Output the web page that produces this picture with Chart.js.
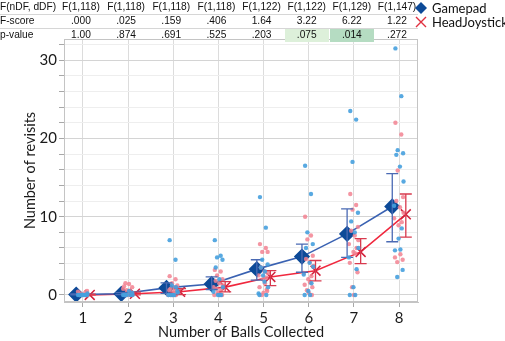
<!DOCTYPE html>
<html>
<head>
<meta charset="utf-8">
<script src="https://cdn.jsdelivr.net/npm/chart.js@4.4.1/dist/chart.umd.min.js"></script>
<style>
  body { margin: 0; background: #fff; }
  #wrap { position: relative; width: 505px; height: 341px; }
  #chart { position: absolute; left: 0; top: 0; }
  .cell { position: absolute; height: 14px; line-height: 14px; font-family: "Liberation Sans", Arial, sans-serif;
          font-size: 10.2px; color: #111; white-space: nowrap; }
  .sep { position: absolute; left: 0; height: 0; border-top: 1px solid #d6d6d6; }
  .legend { position: absolute; left: 414px; font-family: Lato, sans-serif; font-size: 13px; color: #111;
            line-height: 14px; white-space: nowrap; }
  .legend svg { vertical-align: -2px; margin-right: 4px; }
</style>
</head>
<body>
<div id="wrap">
  <canvas id="chart" width="505" height="341"></canvas>
  <div id="table"></div>
  <div class="legend" style="top:1px"><svg width="14" height="14"><path d="M7 1 L13 7 L7 13 L1 7 Z" fill="#0d4a98"/></svg>Gamepad</div>
  <div class="legend" style="top:15px"><svg width="14" height="14"><path d="M2 2 L12 12 M12 2 L2 12" stroke="#e0303f" stroke-width="1.4"/></svg>HeadJoystick</div>
</div>
<script>
// categories: number of balls collected
const categories = [1, 2, 3, 4, 5, 6, 7, 8];

// means and error bars
const gamepadMean = [0.05, 0.15, 0.9, 1.4, 3.3, 4.9, 7.8, 11.3];
const gamepadLow  = [0.0, 0.05, 0.2, 0.7, 1.9, 2.9, 4.8, 6.8];
const gamepadHigh = [0.15, 0.3, 1.55, 2.3, 4.5, 6.5, 11.0, 15.5];
const headMean = [0.0, 0.15, 0.4, 1.0, 2.3, 3.1, 5.5, 10.3];
const headLow  = [0.0, 0.0, 0.05, 0.4, 1.2, 1.8, 4.0, 7.4];
const headHigh = [0.1, 0.35, 0.8, 1.7, 3.1, 4.4, 7.2, 12.9];

// individual revisit counts per category
const gamepadRaw = [
  [0, 0, 0, 0, 0, 0, 0.2, 0, 0, 0],
  [0, 0, 0, 0.3, 0, 0.5, 0, 0],
  [7.0, 4.5, 1.2, 0.5, 0, 0, 0.3, 0, 1.0, 0],
  [7.0, 5.0, 4.8, 4.5, 3.5, 2.0, 1.0, 0.4, 0, 0, 0],
  [12.5, 8.6, 4.5, 3.9, 3.5, 1.7, 1.0, 0.2, 0, 2.5, 3.0, 0],
  [16.5, 12.9, 8.0, 6.5, 6.0, 4.1, 3.6, 2.6, 1.5, 0.5, 0, 0],
  [23.5, 22.4, 17.0, 10.5, 9.4, 8.0, 6.0, 4.8, 3.3, 1.0, 0, 0],
  [31.5, 25.4, 18.5, 18.1, 17.9, 16.4, 14.5, 11.4, 8.5, 7.2, 5.8, 5.7, 3.2, 2.3]
];
const headRaw = [
  [0, 0.3, 0, 0.5, 0.2, 0, 0, 0.4, 0],
  [0, 0.3, 0.6, 1.0, 1.5, 1.4, 0.2, 0.8, 0, 0, 0.5, 1.1, 0.3, 0],
  [2.4, 2.0, 1.5, 1.2, 0.8, 0.5, 0.3, 0, 0, 0, 1.0, 0.6, 0.2, 0],
  [3.2, 3.0, 2.5, 2.0, 1.8, 1.5, 1.2, 1.0, 0.6, 0.3, 0, 0, 0, 0.8, 0.2],
  [6.5, 6.0, 5.5, 5.5, 3.5, 3.0, 2.8, 2.5, 2.2, 2.0, 1.5, 1.0, 0.5, 0, 0.3, 0.7],
  [10.0, 7.6, 7.1, 5.0, 4.6, 4.2, 3.7, 2.8, 2.4, 2.0, 1.6, 1.3, 1.0, 0.6, 0.3, 0],
  [12.9, 11.5, 10.9, 8.7, 8.2, 7.6, 7.0, 6.5, 6.0, 5.5, 5.3, 4.1, 2.9, 1.0, 0],
  [22.0, 20.5, 15.9, 12.5, 12.0, 11.2, 10.5, 9.8, 9.3, 8.9, 5.2, 4.8, 4.5, 4.2]
];

// ANOVA table above the plot
const rowLabels = ['F(nDF, dDF)', 'F-score', 'p-value'];
const dfLabels = ['F(1,118)', 'F(1,118)', 'F(1,118)', 'F(1,118)', 'F(1,122)', 'F(1,122)', 'F(1,129)', 'F(1,147)'];
const fScores = ['.000', '.025', '.159', '.406', '1.64', '3.22', '6.22', '1.22'];
const pValues = ['1.00', '.874', '.691', '.525', '.203', '.075', '.014', '.272'];

const yTicks = [0, 10, 20, 30];

// small horizontal spread so the dots don't sit on one line
const jitter = [-0.08, 0.05, -0.03, 0.09, -0.06, 0.02, 0.1, -0.11, 0.06, -0.01, 0.03, -0.09, 0.08, -0.04, 0.0, 0.07];
const meanShift = 0.15;

function rawPoints(groups) {
  const pts = [];
  groups.forEach((vals, i) => {
    vals.forEach((v, j) => pts.push({ x: categories[i] + jitter[j % jitter.length], y: v }));
  });
  return pts;
}

const errorBars = {
  id: 'errorBars',
  afterDatasetDraw(chart, args) {
    if (args.index !== 1) return;
    const ctx = chart.ctx, xs = chart.scales.x, ys = chart.scales.y;
    function bars(lo, hi, shift, color) {
      ctx.save();
      ctx.strokeStyle = color;
      ctx.lineWidth = 1.3;
      categories.forEach((c, i) => {
        const x = xs.getPixelForValue(c + shift);
        const y1 = ys.getPixelForValue(lo[i]), y2 = ys.getPixelForValue(hi[i]);
        ctx.beginPath();
        ctx.moveTo(x, y1); ctx.lineTo(x, y2);
        ctx.moveTo(x - 6, y1); ctx.lineTo(x + 6, y1);
        ctx.moveTo(x - 6, y2); ctx.lineTo(x + 6, y2);
        ctx.stroke();
      });
      ctx.restore();
    }
    bars(gamepadLow, gamepadHigh, -meanShift, '#4a6ab4');
    bars(headLow, headHigh, meanShift, '#d83a4e');
  },
  afterDraw(chart) {
    const a = chart.chartArea, ctx = chart.ctx;
    ctx.save();
    ctx.strokeStyle = '#c4c4c4';
    ctx.lineWidth = 1;
    ctx.strokeRect(a.left + 0.5, a.top + 0.5, a.right - a.left - 1, a.bottom - a.top - 1);
    ctx.restore();
  }
};

const tickFont = { family: 'Lato, sans-serif', size: 15 };
const titleFont = { family: 'Lato, sans-serif', size: 14.5 };

const chart = new Chart(document.getElementById('chart'), {
  type: 'scatter',
  data: {
    datasets: [
      {
        label: 'Gamepad raw',
        data: rawPoints(gamepadRaw),
        pointRadius: 2.2,
        pointBackgroundColor: 'rgba(70,160,222,0.9)',
        pointBorderWidth: 0
      },
      {
        label: 'HeadJoystick raw',
        data: rawPoints(headRaw),
        pointRadius: 2.2,
        pointBackgroundColor: 'rgba(242,130,146,0.85)',
        pointBorderWidth: 0
      },
      {
        label: 'Gamepad',
        data: categories.map((c, i) => ({ x: c - meanShift, y: gamepadMean[i] })),
        showLine: true,
        borderColor: '#3a62b2',
        borderWidth: 1.6,
        pointStyle: 'rectRot',
        pointRadius: 7,
        pointBackgroundColor: '#0d4a98',
        pointBorderColor: '#0d4a98'
      },
      {
        label: 'HeadJoystick',
        data: categories.map((c, i) => ({ x: c + meanShift, y: headMean[i] })),
        showLine: true,
        borderColor: '#f0283e',
        borderWidth: 1.6,
        pointStyle: 'crossRot',
        pointRadius: 7,
        pointBorderWidth: 1.5,
        pointBorderColor: '#d21f3a'
      }
    ]
  },
  options: {
    animation: false,
    responsive: false,
    layout: { padding: { top: 39, right: 87, left: 0, bottom: 0 } },
    plugins: { legend: { display: false }, tooltip: { enabled: false } },
    scales: {
      x: {
        type: 'linear',
        min: 0.58,
        max: 8.42,
        afterBuildTicks: (axis) => { axis.ticks = categories.map(v => ({ value: v })); },
        afterFit: (axis) => { axis.height = 39; },
        ticks: { font: tickFont, color: '#1a1a1a', padding: 2 },
        grid: { color: '#dcdcdc', tickColor: '#a8a8a8', tickLength: 5 },
        border: { color: '#c4c4c4' },
        title: { display: true, text: 'Number of Balls Collected', font: titleFont, color: '#1a1a1a', padding: { top: 0, bottom: 0 } }
      },
      y: {
        type: 'linear',
        min: -0.9,
        max: 32.7,
        afterBuildTicks: (axis) => {
          const t = [];
          for (let v = 0; v <= 32; v += 2) t.push({ value: v });
          axis.ticks = t;
        },
        afterFit: (axis) => { axis.width = 64; },
        ticks: {
          font: tickFont,
          color: '#1a1a1a',
          padding: 2,
          autoSkip: false,
          callback: (v) => yTicks.includes(v) ? String(v) : ''
        },
        grid: {
          color: (c) => yTicks.includes(c.tick && c.tick.value) ? '#d4d4d4' : '#eeeeee',
          tickColor: '#a8a8a8',
          tickLength: 5
        },
        border: { color: '#c4c4c4' },
        title: { display: true, text: 'Number of revisits', font: titleFont, color: '#1a1a1a', padding: { top: 22, bottom: 0 } }
      }
    }
  },
  plugins: [errorBars]
});

// build the statistics table, columns centred on the category positions
(function buildTable() {
  const xs = chart.scales.x;
  const box = document.getElementById('table');
  const right = chart.chartArea.right;
  function add(text, left, top, width, align, bg) {
    const d = document.createElement('div');
    d.className = 'cell';
    d.textContent = text;
    d.style.left = left + 'px';
    d.style.top = top + 'px';
    d.style.width = width + 'px';
    d.style.textAlign = align;
    if (bg) d.style.background = bg;
    box.appendChild(d);
  }
  rowLabels.forEach((t, r) => add(t, 0, r * 14, 60, 'left'));
  [dfLabels, fScores, pValues].forEach((row, r) => {
    row.forEach((t, i) => {
      const cx = xs.getPixelForValue(categories[i]) - 2;
      let bg = null;
      if (r === 2) {
        const p = parseFloat(t);
        if (p < 0.05) bg = '#b5dcc2';
        else if (p < 0.1) bg = '#ddf0da';
      }
      add(t, cx - 22, r * 14, 44, 'center', bg);
    });
  });
  [14, 28].forEach(y => {
    const s = document.createElement('div');
    s.className = 'sep';
    s.style.top = y + 'px';
    s.style.width = right + 'px';
    box.appendChild(s);
  });
})();
</script>
</body>
</html>
